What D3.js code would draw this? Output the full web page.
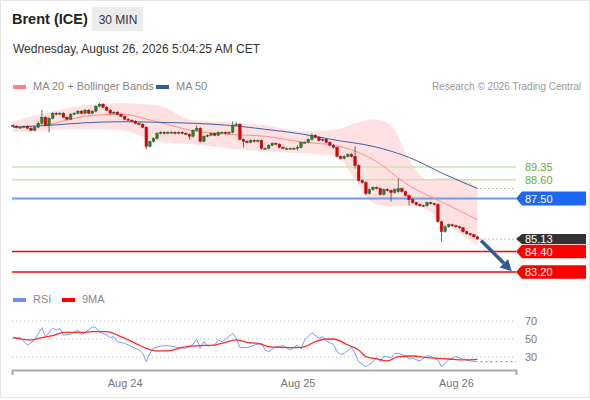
<!DOCTYPE html>
<html>
<head>
<meta charset="utf-8">
<script src="https://cdn.jsdelivr.net/npm/d3@7"></script>
<style>
    body { margin: 0; background: #fff; }
    svg text { font-family: "Liberation Sans", Arial, sans-serif; }
</style>
</head>
<body>
<svg id="chart" width="590" height="400"></svg>
<script>
// Brent (ICE) 30 min candles with MA20 + Bollinger, MA50, key levels and RSI panel.

// --- candles (30-min bars, index 0..129) ---
const opens = [
    91.79, 91.74, 91.68, 91.68, 91.74, 91.62, 91.50, 91.68, 91.91, 92.26,
    91.79, 92.21, 92.50, 92.44, 92.50, 92.26, 92.15, 92.44, 92.50, 92.62,
    92.50, 92.68, 92.50, 92.62, 92.91, 93.03, 92.85, 92.68, 92.50, 92.56,
    92.44, 92.32, 92.15, 92.09, 92.03, 91.91, 91.85, 91.68, 90.56, 90.85,
    91.03, 91.32, 91.38, 91.32, 91.38, 91.38, 91.32, 91.38, 91.32, 91.26,
    91.15, 91.50, 91.62, 90.85, 91.15, 91.21, 91.32, 91.21, 91.38, 91.38,
    91.32, 91.38, 91.79, 91.85, 90.97, 90.85, 90.79, 90.91, 90.85, 90.91,
    90.44, 90.44, 90.62, 90.74, 90.68, 90.50, 90.44, 90.44, 90.44, 90.44,
    90.50, 90.79, 90.79, 90.97, 91.21, 91.09, 90.91, 90.97, 90.79, 90.62,
    90.50, 89.97, 89.85, 89.97, 90.09, 89.97, 89.44, 88.56, 88.44, 87.79,
    88.03, 88.15, 88.09, 87.74, 88.03, 87.97, 87.85, 87.91, 88.09, 87.91,
    87.68, 87.44, 87.26, 87.15, 87.09, 87.09, 87.26, 87.21, 87.15, 86.15,
    85.56, 85.85, 85.97, 85.91, 85.85, 85.79, 85.56, 85.44, 85.38, 85.26
];
const highs = [
    91.85, 91.79, 91.74, 91.79, 91.79, 91.68, 91.74, 92.03, 92.68, 92.32,
    92.26, 92.56, 92.56, 92.56, 92.56, 92.32, 92.50, 92.56, 92.68, 92.68,
    92.74, 92.74, 92.68, 92.97, 93.09, 93.09, 92.91, 92.74, 92.62, 92.62,
    92.50, 92.38, 92.21, 92.15, 92.09, 91.97, 91.91, 91.74, 90.91, 91.09,
    91.38, 91.44, 91.44, 91.44, 91.44, 91.44, 91.44, 91.44, 91.38, 91.32,
    91.56, 91.79, 91.68, 91.21, 91.26, 91.38, 91.38, 91.44, 91.44, 91.44,
    91.44, 92.03, 91.97, 91.91, 91.03, 90.91, 90.97, 90.97, 90.97, 90.97,
    90.50, 90.68, 90.79, 90.79, 90.74, 90.56, 90.50, 90.50, 90.50, 90.62,
    90.85, 90.85, 91.03, 91.32, 91.26, 91.15, 91.03, 91.03, 90.85, 90.68,
    90.56, 90.03, 90.03, 90.15, 90.15, 90.56, 89.50, 88.62, 88.50, 88.09,
    88.21, 88.21, 88.15, 88.09, 88.09, 88.03, 88.09, 88.68, 88.15, 87.97,
    87.74, 87.50, 87.32, 87.21, 87.15, 87.32, 87.32, 87.26, 87.21, 86.21,
    85.97, 86.03, 86.03, 85.97, 85.91, 85.85, 85.62, 85.50, 85.44, 85.32
];
const lows = [
    91.68, 91.62, 91.62, 91.62, 91.56, 91.44, 91.44, 91.62, 91.85, 91.74,
    91.38, 92.15, 92.38, 92.38, 92.21, 92.09, 92.09, 92.38, 92.44, 92.44,
    92.44, 92.44, 92.44, 92.56, 92.85, 92.79, 92.62, 92.44, 92.44, 92.38,
    92.26, 92.09, 92.03, 91.97, 91.85, 91.79, 91.62, 90.38, 90.50, 90.79,
    90.97, 91.26, 91.26, 91.26, 91.32, 91.26, 91.26, 91.26, 91.21, 90.97,
    91.09, 91.44, 90.79, 90.79, 91.09, 91.15, 91.15, 91.15, 91.32, 91.26,
    91.26, 91.32, 91.74, 90.91, 90.50, 90.74, 90.74, 90.79, 90.79, 90.38,
    90.38, 90.38, 90.56, 90.62, 90.44, 90.38, 90.38, 90.38, 90.38, 90.32,
    90.44, 90.74, 90.74, 90.91, 91.03, 90.85, 90.85, 90.74, 90.56, 90.44,
    89.91, 89.79, 89.79, 89.91, 89.91, 89.26, 88.50, 88.38, 87.68, 87.74,
    87.97, 88.03, 87.68, 87.68, 87.91, 87.32, 87.79, 87.85, 87.85, 87.62,
    87.09, 87.21, 87.09, 87.03, 87.03, 87.03, 87.15, 87.09, 86.09, 84.97,
    85.50, 85.79, 85.85, 85.79, 85.74, 85.50, 85.38, 85.32, 85.21, 85.09
];
const closes = [
    91.74, 91.68, 91.68, 91.74, 91.62, 91.50, 91.68, 91.91, 92.26, 91.79,
    92.21, 92.50, 92.44, 92.50, 92.26, 92.15, 92.44, 92.50, 92.62, 92.50,
    92.68, 92.50, 92.62, 92.91, 93.03, 92.85, 92.68, 92.50, 92.56, 92.44,
    92.32, 92.15, 92.09, 92.03, 91.91, 91.85, 91.68, 90.56, 90.85, 91.03,
    91.32, 91.38, 91.32, 91.38, 91.38, 91.32, 91.38, 91.32, 91.26, 91.15,
    91.50, 91.62, 90.85, 91.15, 91.21, 91.32, 91.21, 91.38, 91.38, 91.32,
    91.38, 91.79, 91.85, 90.97, 90.85, 90.79, 90.91, 90.85, 90.91, 90.44,
    90.44, 90.62, 90.74, 90.68, 90.50, 90.44, 90.44, 90.44, 90.44, 90.50,
    90.79, 90.79, 90.97, 91.21, 91.09, 90.91, 90.97, 90.79, 90.62, 90.50,
    89.97, 89.85, 89.97, 90.09, 89.97, 89.44, 88.56, 88.44, 87.79, 88.03,
    88.15, 88.09, 87.74, 88.03, 87.97, 87.85, 88.03, 88.09, 87.91, 87.68,
    87.44, 87.26, 87.15, 87.09, 87.09, 87.26, 87.21, 87.15, 86.15, 85.56,
    85.85, 85.97, 85.91, 85.85, 85.79, 85.56, 85.44, 85.38, 85.26, 85.13
];

// --- indicators read at sample bars ---
const bandIdx   = [0, 10, 20, 30, 40, 50, 60, 70, 80, 90, 95, 100, 105, 110, 115, 120, 125, 129];
const bandUpper = [92.03, 92.56, 92.97, 93.09, 92.97, 92.09, 91.97, 91.79, 91.44, 91.56, 91.91, 92.15, 91.79, 89.79, 88.62, 88.74, 88.62, 88.15];
const bandLower = [91.38, 91.50, 91.56, 91.50, 90.85, 90.68, 90.44, 90.26, 90.15, 89.97, 88.62, 87.26, 87.03, 87.09, 86.85, 86.03, 85.32, 84.74];

const maIdx  = [0, 10, 20, 30, 40, 50, 60, 70, 80, 90, 100, 110, 120, 129];
const ma20   = [91.68, 91.85, 92.32, 92.44, 92.00, 91.47, 91.26, 91.15, 90.82, 90.59, 89.79, 88.26, 87.21, 86.26];
const ma50   = [91.68, 91.79, 91.94, 92.00, 91.97, 91.91, 91.79, 91.56, 91.29, 90.91, 90.56, 89.91, 88.91, 88.09];

const rsiIdx = [
    0, 2, 4, 6, 8, 9, 11, 12, 13, 14, 16, 18, 19, 21, 22, 23, 24, 26, 27, 28,
    29, 31, 33, 35, 36, 37, 38, 39, 41, 43, 44, 46, 48, 50, 51, 52, 53, 54, 56, 57,
    58, 59, 61, 62, 63, 65, 67, 69, 70, 71, 73, 75, 77, 79, 80, 81, 83, 85, 86, 87,
    89, 90, 91, 92, 94, 95, 96, 97, 98, 100, 101, 102, 103, 105, 106, 107, 109, 110, 111, 113,
    115, 116, 118, 119, 121, 122, 123, 125, 127, 129
];
const rsiVal = [
    50.8, 51.5, 43.0, 49.0, 62.6, 52.6, 61.9, 60.0, 61.9, 54.4, 55.2, 60.0, 55.0, 60.0, 63.7, 62.6, 58.0, 54.4, 51.5, 52.6,
    47.0, 45.2, 41.5, 37.8, 34.0, 24.8, 34.0, 39.6, 42.2, 42.6, 42.2, 40.4, 39.6, 44.0, 50.0, 39.6, 47.0, 42.2, 43.3, 49.0,
    47.0, 49.6, 56.3, 50.8, 40.7, 40.4, 43.3, 45.2, 37.8, 35.9, 41.5, 42.6, 37.8, 43.3, 38.9, 49.0, 57.0, 50.8, 52.6, 47.8,
    44.0, 35.9, 33.0, 34.0, 40.4, 34.0, 24.8, 21.9, 19.2, 24.8, 29.2, 24.8, 31.1, 29.2, 34.0, 34.0, 31.1, 27.8, 28.5, 25.6,
    31.5, 30.4, 26.7, 19.2, 26.7, 28.5, 30.4, 27.8, 25.6, 24.8
];
const ma9Idx = [0, 5, 8, 11, 14, 19, 22, 26, 29, 32, 34, 37, 40, 43, 46, 48, 52, 56, 59, 62, 65, 68, 71, 74, 79, 81, 84, 87, 89, 93, 96, 98, 101, 104, 107, 111, 115, 118, 121, 125, 129];
const ma9Val = [51.9, 49.0, 51.5, 53.7, 57.4, 57.4, 58.1, 58.1, 54.4, 49.0, 45.2, 39.6, 36.7, 36.7, 39.6, 41.5, 42.6, 43.3, 46.3, 49.0, 46.3, 45.2, 41.5, 40.7, 40.4, 41.5, 47.0, 50.0, 50.0, 43.3, 37.8, 30.4, 27.8, 25.6, 30.4, 31.1, 29.2, 28.5, 27.8, 26.7, 27.4];

// --- levels and ticks ---
const resistLevels = [89.35, 88.60];
const pivotLevel = 87.50;
const supportLevels = [84.40, 83.20];
const lastPrice = 85.13;
const rsiTicks = [70, 50, 30];
const xTickIdx = [31, 79, 123];
const xTickLabels = ["Aug 24", "Aug 25", "Aug 26"];

const svg = d3.select("#chart");
const FONT = "'Liberation Sans', Arial, sans-serif";

// frame
svg.append("rect")
    .attr("x", 0.5).attr("y", 0.5).attr("width", 589).attr("height", 397)
    .attr("fill", "#fff").attr("stroke", "#e6e6e6");

// header
svg.append("text").attr("x", 12).attr("y", 24)
    .attr("font-size", 14.5).attr("font-weight", "bold").attr("fill", "#222")
    .text("Brent (ICE)");
svg.append("rect").attr("x", 92).attr("y", 7).attr("width", 51).attr("height", 24)
    .attr("fill", "#ececec");
svg.append("text").attr("x", 118).attr("y", 23.5).attr("text-anchor", "middle")
    .attr("font-size", 12).attr("fill", "#333").text("30 MIN");
svg.append("text").attr("x", 13).attr("y", 53)
    .attr("font-size", 12).attr("fill", "#333")
    .text("Wednesday, August 26, 2026 5:04:25 AM CET");

// legends
function legendItem(x, yy, color, label) {
    svg.append("rect").attr("x", x).attr("y", yy - 5).attr("width", 13).attr("height", 4)
        .attr("fill", color);
    svg.append("text").attr("x", x + 20).attr("y", yy)
        .attr("font-size", 11).attr("fill", "#888").text(label);
}
legendItem(13, 90, "#ff8080", "MA 20 + Bollinger Bands");
legendItem(156, 90, "#2f5a9c", "MA 50");
svg.append("text").attr("x", 581).attr("y", 90).attr("text-anchor", "end")
    .attr("font-size", 10).attr("fill", "#999").text("Research © 2026 Trading Central");
legendItem(13, 303, "#6f8fe8", "RSI");
legendItem(62, 303, "#ff0000", "9MA");

// scales
const x = d3.scaleLinear().domain([-0.3, 139.7]).range([12, 516]);
const y = d3.scaleLinear().domain([83.2, 89.35]).range([272, 167]);
const yR = d3.scaleLinear().domain([30, 70]).range([357, 321]);
const xEnd = x.range()[1];

// bollinger band
const band = bandIdx.map((d, i) => ({ i: d, hi: bandUpper[i], lo: bandLower[i] }));
svg.append("path").datum(band)
    .attr("fill", "#ffe1e1")
    .attr("d", d3.area().x(d => x(d.i)).y0(d => y(d.lo)).y1(d => y(d.hi)).curve(d3.curveMonotoneX));

// horizontal levels
resistLevels.forEach(v => {
    svg.append("line").attr("x1", 12).attr("x2", xEnd).attr("y1", y(v)).attr("y2", y(v))
        .attr("stroke", "#c8e2b6").attr("stroke-width", 1.5);
});
svg.append("line").attr("x1", 12).attr("x2", xEnd).attr("y1", y(pivotLevel)).attr("y2", y(pivotLevel))
    .attr("stroke", "#6d9cf4").attr("stroke-width", 2);
supportLevels.forEach(v => {
    svg.append("line").attr("x1", 12).attr("x2", xEnd).attr("y1", y(v)).attr("y2", y(v))
        .attr("stroke", "#ff0000").attr("stroke-width", 1.5);
});

// moving averages
const maLine = (vals) => d3.line()
    .x((_, i) => x(maIdx[i])).y(d => y(d)).curve(d3.curveMonotoneX)(vals);
svg.append("path").attr("d", maLine(ma20)).attr("fill", "none")
    .attr("stroke", "#ff8c8c").attr("stroke-width", 1);
svg.append("path").attr("d", maLine(ma50)).attr("fill", "none")
    .attr("stroke", "#3c63a8").attr("stroke-width", 1);

// dotted extensions to the label column
const lastX = x(closes.length - 1) + 3;
[ma50[ma50.length - 1], lastPrice].forEach(v => {
    svg.append("line").attr("x1", lastX).attr("x2", xEnd).attr("y1", y(v)).attr("y2", y(v))
        .attr("stroke", "#777").attr("stroke-width", 1).attr("stroke-dasharray", "1,3");
});

// candles
const bw = 2.6;
const candles = svg.append("g");
closes.forEach((c, i) => {
    const o = opens[i];
    const up = c >= o;
    const color = up ? "#2e7d2e" : "#e00000";
    const cx = x(i);
    candles.append("line").attr("x1", cx).attr("x2", cx)
        .attr("y1", y(highs[i])).attr("y2", y(lows[i]))
        .attr("stroke", "#666").attr("stroke-width", 1);
    const top = y(Math.max(o, c));
    const h = Math.max(1, Math.abs(y(o) - y(c)));
    candles.append("rect").attr("x", cx - bw / 2).attr("y", top)
        .attr("width", bw).attr("height", h)
        .attr("fill", color).attr("stroke", up ? "#1f5a1f" : "#a00000").attr("stroke-width", 0.4);
});

// projection arrow
const a0 = [x(130), y(85.05)];
const a1 = [x(138.5), y(83.25)];
const ang = Math.atan2(a1[1] - a0[1], a1[0] - a0[0]);
const headLen = 11, headW = 6;
const base = [a1[0] - headLen * Math.cos(ang), a1[1] - headLen * Math.sin(ang)];
svg.append("line").attr("x1", a0[0]).attr("y1", a0[1]).attr("x2", base[0]).attr("y2", base[1])
    .attr("stroke", "#2e5b9c").attr("stroke-width", 3.5);
svg.append("polygon").attr("fill", "#2e5b9c").attr("points", [
    a1,
    [base[0] + headW * Math.sin(ang), base[1] - headW * Math.cos(ang)],
    [base[0] - headW * Math.sin(ang), base[1] + headW * Math.cos(ang)]
].map(p => p.join(",")).join(" "));

// price tags
function tag(v, fill, half) {
    const cy = y(v);
    svg.append("path")
        .attr("d", `M${xEnd},${cy} L${xEnd + 6},${cy - half} L586,${cy - half} L586,${cy + half} L${xEnd + 6},${cy + half} Z`)
        .attr("fill", fill);
    svg.append("text").attr("x", xEnd + 9).attr("y", cy + 4)
        .attr("font-size", 11).attr("fill", "#fff").text(v.toFixed(2));
}
resistLevels.forEach(v => {
    svg.append("text").attr("x", xEnd + 9).attr("y", y(v) + 4)
        .attr("font-size", 11).attr("fill", "#6aaa3c").text(v.toFixed(2));
});
tag(pivotLevel, "#1f66f2", 7);
tag(lastPrice, "#333333", 5);
supportLevels.forEach(v => tag(v, "#ff0000", 6.7));

// RSI panel
rsiTicks.forEach(t => {
    svg.append("line").attr("x1", 12).attr("x2", xEnd).attr("y1", yR(t)).attr("y2", yR(t))
        .attr("stroke", "#bbb").attr("stroke-width", 1).attr("stroke-dasharray", "1,3");
    svg.append("text").attr("x", xEnd + 9).attr("y", yR(t) + 4)
        .attr("font-size", 11).attr("fill", "#777").text(t);
});
svg.append("path")
    .attr("d", d3.line().x((_, i) => x(rsiIdx[i])).y(d => yR(d))(rsiVal))
    .attr("fill", "none").attr("stroke", "#7b9cf2").attr("stroke-width", 1);
svg.append("line").attr("x1", lastX).attr("x2", xEnd)
    .attr("y1", yR(rsiVal[rsiVal.length - 1])).attr("y2", yR(rsiVal[rsiVal.length - 1]))
    .attr("stroke", "#7b9cf2").attr("stroke-width", 1.2).attr("stroke-dasharray", "2,3");
svg.append("path")
    .attr("d", d3.line().x((_, i) => x(ma9Idx[i])).y(d => yR(d)).curve(d3.curveMonotoneX)(ma9Val))
    .attr("fill", "none").attr("stroke", "#ff2a2a").attr("stroke-width", 1.3);

// time axis
const xAxis = svg.append("g")
    .attr("transform", "translate(0,370)")
    .call(d3.axisBottom(x)
        .tickValues(xTickIdx)
        .tickFormat((_, i) => xTickLabels[i])
        .tickSizeInner(0)
        .tickSizeOuter(5)
        .tickPadding(9));
xAxis.select(".domain").attr("stroke", "#aaa").attr("stroke-width", 2);
xAxis.selectAll("text").attr("font-size", 11).attr("fill", "#777").attr("font-family", FONT);
</script>
</body>
</html>
